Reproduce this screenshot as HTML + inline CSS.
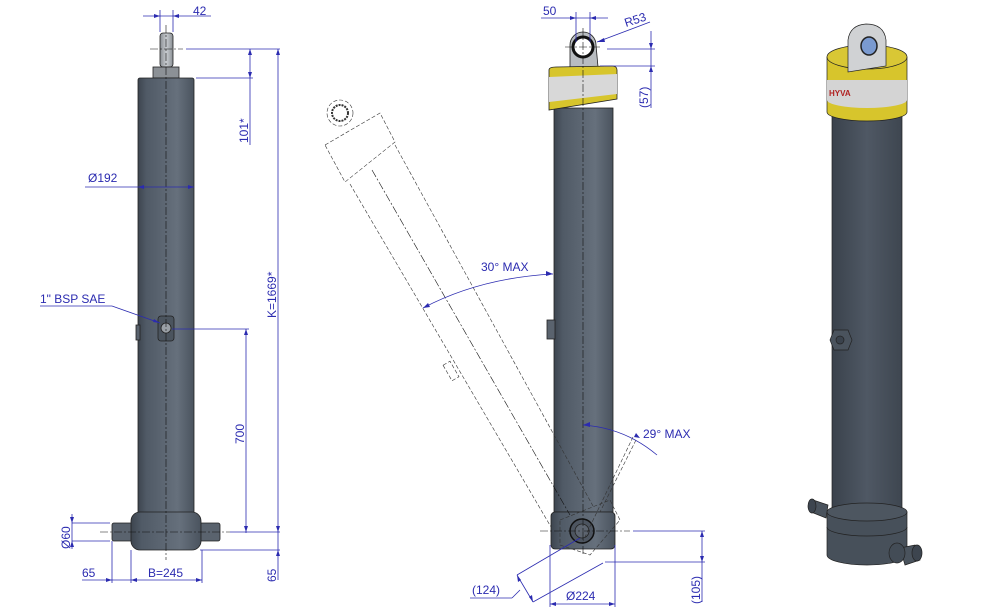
<!DOCTYPE html>
<html><head><meta charset="utf-8"><style>
html,body{margin:0;padding:0;background:#fff}
svg{display:block}
text{font-family:"Liberation Sans",sans-serif;fill:#2b2bb0;font-size:12px}
</style></head><body>
<svg width="1000" height="614" viewBox="0 0 1000 614" xmlns="http://www.w3.org/2000/svg">
<defs>
<linearGradient id="cyl" x1="0" x2="1" y1="0" y2="0">
<stop offset="0" stop-color="#3d454f"/><stop offset="0.15" stop-color="#505a66"/><stop offset="0.7" stop-color="#66707c"/><stop offset="1" stop-color="#4a535e"/>
</linearGradient>
<linearGradient id="cyl3" x1="0" x2="1" y1="0" y2="0">
<stop offset="0" stop-color="#3a424c"/><stop offset="0.5" stop-color="#4f5864"/><stop offset="1" stop-color="#3e4650"/>
</linearGradient>
<linearGradient id="rod" x1="0" x2="1"><stop offset="0" stop-color="#8a8f94"/><stop offset="0.5" stop-color="#c8ccd0"/><stop offset="1" stop-color="#8a8f94"/></linearGradient>
</defs>

<!-- ===== LEFT VIEW ===== -->
<g stroke="#222" stroke-width="0.8">
<rect x="160" y="33" width="13" height="34" fill="url(#rod)" rx="3"/>
<rect x="153" y="67" width="26" height="11" fill="#8c9196"/>
<rect x="138" y="78" width="56" height="436" fill="url(#cyl)" rx="2"/>
<rect x="112" y="523" width="108" height="18" fill="#5a636e" rx="2"/>
<rect x="131" y="512" width="70" height="38" fill="url(#cyl)" rx="9"/>
<rect x="136" y="325" width="4" height="15" fill="#5a636e"/>
<rect x="158" y="316" width="16" height="25" fill="#4b545e" rx="3"/>
<circle cx="166" cy="328" r="5" fill="#9aa0a6"/>
</g>
<g stroke="#111" stroke-width="0.6" stroke-dasharray="8,2,2,2" fill="none">
<line x1="166" y1="25" x2="166" y2="560"/>
<line x1="100" y1="532" x2="230" y2="532"/>
<line x1="150" y1="49" x2="183" y2="49"/>
</g>
<g stroke="#2b2bb0" stroke-width="0.8" fill="none">
<line x1="143" y1="16" x2="211" y2="16"/><line x1="160" y1="10" x2="160" y2="32"/><line x1="173" y1="10" x2="173" y2="32"/>
<line x1="186" y1="49" x2="280" y2="49"/><line x1="196" y1="78" x2="253" y2="78"/>
<line x1="250" y1="49" x2="250" y2="145"/>
<line x1="278" y1="49" x2="278" y2="580"/>
<line x1="85" y1="187" x2="194" y2="187"/>
<line x1="40" y1="306" x2="112" y2="306"/><line x1="112" y1="306" x2="160" y2="323"/>
<line x1="172" y1="329" x2="249" y2="329"/><line x1="246" y1="329" x2="246" y2="533"/>
<line x1="230" y1="532" x2="280" y2="532"/><line x1="200" y1="550" x2="280" y2="550"/>
<line x1="72" y1="514" x2="72" y2="549"/><line x1="72" y1="523" x2="110" y2="523"/><line x1="72" y1="541" x2="110" y2="541"/>
<line x1="112" y1="541" x2="112" y2="583"/><line x1="131" y1="550" x2="131" y2="583"/><line x1="202" y1="550" x2="202" y2="583"/>
<line x1="82" y1="580" x2="202" y2="580"/>
</g>
<g fill="#2b2bb0">
<path d="M160 16l-6-2v4zM173 16l6-2v4z"/>
<path d="M250 49l-2 6h4zM250 78l-2-6h4zM278 49l-2 6h4zM278 532l-2-6h4zM278 550l-2 6h4z"/>
<path d="M138 187l6-2v4zM194 187l-6-2v4zM160 323l-6-4 -1 3z"/>
<path d="M246 329l-2 6h4zM246 532l-2-6h4zM72 523l-2-6h4zM72 541l-2 6h4z"/>
<path d="M112 580l-6-2v4zM131 580l6-2v4zM202 580l-6-2v4z"/>
</g>
<text x="193" y="15">42</text>
<text x="88" y="182">Ø192</text>
<text x="40" y="303">1" BSP SAE</text>
<text x="82" y="577">65</text>
<text x="148" y="577">B=245</text>
<text transform="translate(248,143) rotate(-90)">101*</text>
<text transform="translate(276,318) rotate(-90)">K=1669*</text>
<text transform="translate(244,444) rotate(-90)">700</text>
<text transform="translate(70,549) rotate(-90)">Ø60</text>
<text transform="translate(276,582) rotate(-90)">65</text>

<!-- ===== MIDDLE VIEW ===== -->
<g stroke="#222" stroke-width="0.8">
<path d="M570 67 L570 45 A13 13 0 0 1 596 45 L598 67 Z" fill="#b8bcc0"/>
<circle cx="583" cy="47" r="10" fill="#fff" stroke="#111" stroke-width="3"/>
<rect x="554" y="108" width="59" height="404" fill="url(#cyl)"/>
<path d="M549 70 Q549 67 556 67 L612 66 Q617 66 617 70 L617 99 L549 110 Z" fill="#d7c52c"/>
<path d="M549 77 L617 74 L617 94 L549 102 Z" fill="#d8d8d8" stroke="none"/>
<rect x="547" y="320" width="8" height="19" fill="#5a636e"/>
<rect x="551" y="512" width="64" height="37" fill="url(#cyl)" rx="4"/>
<circle cx="582" cy="531" r="12" fill="#4d5560" stroke="#111" stroke-width="1.5"/>
<circle cx="582" cy="531" r="7" fill="#5d6570"/>
</g>
<g stroke="#333" stroke-width="0.6" fill="none" stroke-dasharray="4,2">
<circle cx="340" cy="113" r="13"/>
<circle cx="340" cy="113" r="8" stroke-width="2" stroke-dasharray="2,1"/>
<path d="M325 145 L380 113 L395 142 L345 182 Z"/>
<line x1="350" y1="184" x2="551" y2="527"/>
<line x1="395" y1="145" x2="593" y2="506"/>
<line x1="633" y1="437" x2="583" y2="541"/>
<line x1="636" y1="440" x2="600" y2="512"/>
<path d="M560 520 L610 500 L620 520 L590 555 L560 545 Z"/>
<rect x="447" y="362" width="8" height="18" transform="rotate(-30 451 371)"/>
</g>
<g stroke="#111" stroke-width="0.6" stroke-dasharray="8,2,2,2" fill="none">
<line x1="583" y1="28" x2="583" y2="555"/>
<line x1="565" y1="47" x2="600" y2="47"/>
<line x1="540" y1="531" x2="630" y2="531"/>
<line x1="372" y1="170" x2="570" y2="515"/>
</g>
<g stroke="#2b2bb0" stroke-width="0.8" fill="none">
<line x1="541" y1="18" x2="608" y2="18"/><line x1="576" y1="12" x2="576" y2="42"/><line x1="590" y1="12" x2="590" y2="42"/>
<line x1="597" y1="42" x2="650" y2="22"/>
<line x1="607" y1="49" x2="655" y2="49"/><line x1="600" y1="66" x2="655" y2="66"/><line x1="651" y1="31" x2="651" y2="108"/>
<path d="M553 274 Q480 278 423 308"/>
<path d="M583 425 Q625 428 657 455"/>
<line x1="633" y1="531" x2="705" y2="531"/><line x1="605" y1="562" x2="705" y2="562"/><line x1="702" y1="531" x2="702" y2="602"/>
<line x1="550" y1="545" x2="550" y2="607"/><line x1="615" y1="545" x2="615" y2="607"/><line x1="550" y1="604" x2="615" y2="604"/>
<line x1="470" y1="598" x2="512" y2="598"/><line x1="512" y1="598" x2="520" y2="590"/>
<line x1="517" y1="575" x2="533" y2="602"/>
<line x1="517" y1="575" x2="580" y2="538"/><line x1="533" y1="602" x2="603" y2="563"/>
</g>
<g fill="#2b2bb0">
<path d="M576 18l-6-2v4zM590 18l6-2v4zM597 42l7-4 1 4z"/>
<path d="M651 49l-2-6h4zM651 66l-2 6h4z"/>
<path d="M553 274l-7-3v5zM423 308l5-5 2 4z"/>
<path d="M583 425l7-3v5zM640 438l-6-1 2-4z"/>
<path d="M702 531l-2 6h4zM702 562l-2-6h4z"/>
<path d="M550 604l6-2v4zM615 604l-6-2v4z"/>
<path d="M517 575l1 7 3-2zM533 602l-1-7-3 2z"/>
</g>
<text x="543" y="15">50</text>
<text transform="translate(626,27) rotate(-18)">R53</text>
<text transform="translate(648,108) rotate(-90)">(57)</text>
<text x="481" y="271">30° MAX</text>
<text x="643" y="438">29° MAX</text>
<text transform="translate(700,604) rotate(-90)">(105)</text>
<text x="566" y="600">Ø224</text>
<text x="472" y="594">(124)</text>

<!-- ===== RIGHT 3D VIEW ===== -->
<g stroke="#222" stroke-width="0.7">
<rect x="832" y="112" width="70" height="412" fill="url(#cyl3)"/>
<path d="M827 512 L827 555 A40 10 0 0 0 907 555 L907 512 Z" fill="#47505a"/>
<ellipse cx="867" cy="512" rx="40" ry="9" fill="#4d5660"/>
<path d="M827 527 A40 9 0 0 0 907 527" fill="none"/>
<path d="M813 500 L828 505 L826 518 L811 512 Z" fill="#4a535d"/>
<ellipse cx="812" cy="506" rx="4" ry="7" fill="#3d454f"/>
<path d="M900 548 L915 545 L920 560 L905 565 Z" fill="#4a535d"/>
<ellipse cx="917" cy="553" rx="5" ry="8" fill="#3d454f"/>
<ellipse cx="897" cy="553" rx="8" ry="10" fill="#434c56"/>
<path d="M827 57 L827 112 A40 9 0 0 0 907 112 L907 57 Z" fill="#d7c52c"/>
<path d="M827 80 L907 80 L907 100 A40 8 0 0 1 827 100 Z" fill="#d4d4d4" stroke="none"/>
<ellipse cx="867" cy="57" rx="40" ry="12" fill="#d9c735"/>
<path d="M848 72 L848 40 Q850 25 866 24 Q884 24 886 40 L886 66 Z" fill="#d0d2d4"/>
<ellipse cx="869" cy="46" rx="8" ry="9" fill="#7a9ad0" stroke="#222" stroke-width="1.5"/>
<path d="M834 330 L848 330 L852 340 L848 350 L834 350 L830 340 Z" fill="#4a535d"/>
<circle cx="840" cy="340" r="4" fill="#3a424c"/>
</g>
<text x="829" y="96" style="fill:#b02020;font-size:8px;font-weight:bold">HYVA</text>
</svg>
</body></html>
